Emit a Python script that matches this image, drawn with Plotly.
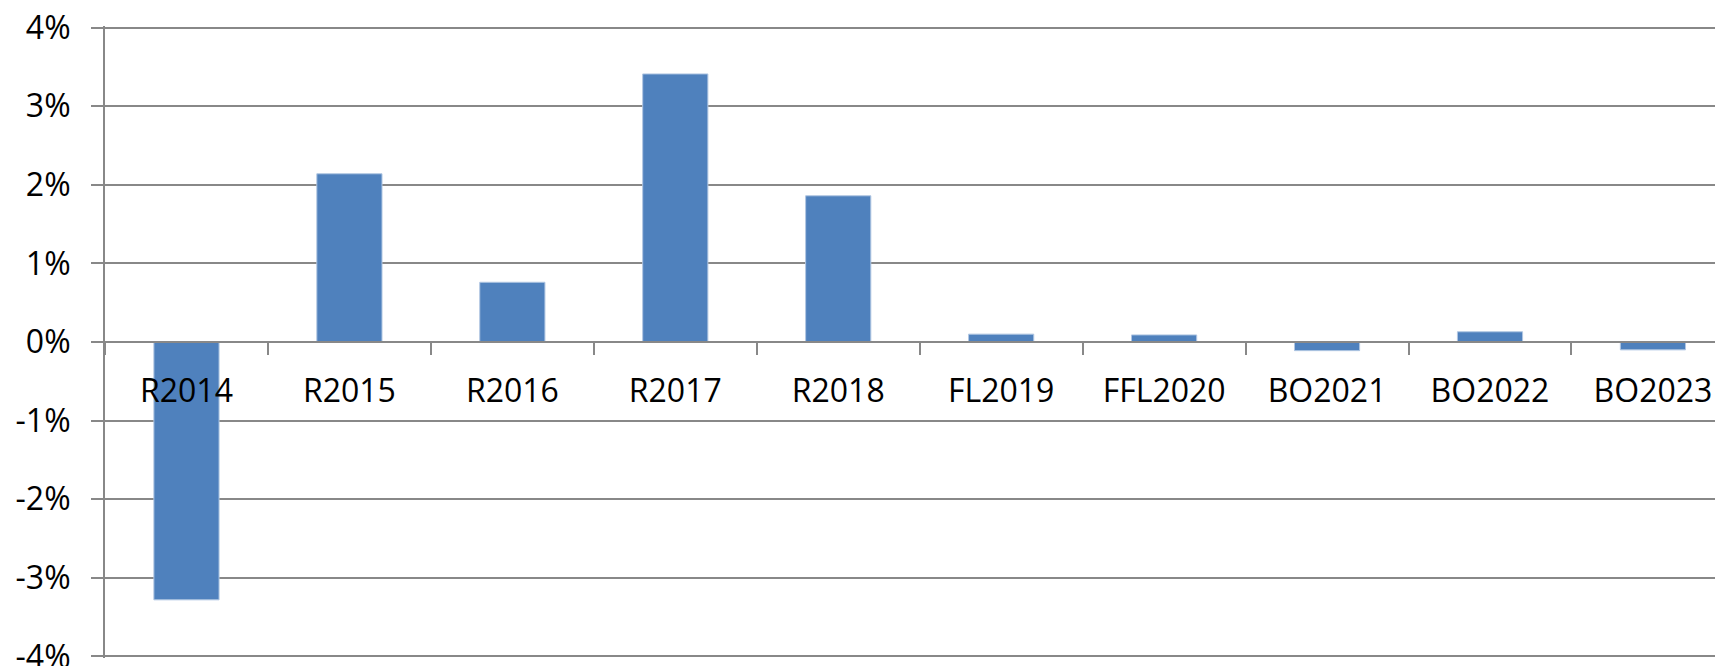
import plotly.graph_objects as go

# Year-on-year change, in percent
categories = ["R2014", "R2015", "R2016", "R2017", "R2018",
              "FL2019", "FFL2020", "BO2021", "BO2022", "BO2023"]
change_pct = [-3.28, 2.14, 0.76, 3.41, 1.86, 0.10, 0.09, -0.11, 0.13, -0.10]

y_ticks = [-4, -3, -2, -1, 0, 1, 2, 3, 4]
y_tick_labels = ["-4%", "-3%", "-2%", "-1%", "0%", "1%", "2%", "3%", "4%"]

BLUE = "#4f81bd"
GRID = "#888888"
FONT = "Open Sans"

fig = go.Figure()
fig.add_trace(go.Bar(
    x=categories, y=change_pct, width=0.4,
    marker=dict(color=BLUE, line=dict(color="#b0c6e2", width=1)),
    hoverinfo="x+y",
))

# page body has an 8px margin, so the figure is a bit smaller than the window
fig.update_layout(
    width=1715, height=658,
    margin=dict(l=97, r=0, t=18, b=8),
    paper_bgcolor="white", plot_bgcolor="white",
    showlegend=False,
    font=dict(family=FONT, size=32, color="black"),
)

# the category axis sits on the 0% line, ticks between categories
fig.update_xaxes(
    type="category", range=[-0.5, 9.43],
    anchor="free", position=0.5, automargin=False,
    showline=True, linecolor=GRID, linewidth=2,
    ticks="outside", tickson="boundaries", ticklen=12, tickcolor=GRID, tickwidth=2,
    ticklabelstandoff=21,
    showgrid=False, zeroline=False,
)
fig.update_yaxes(
    range=[-4.02, 4.02], tickvals=y_ticks, ticktext=y_tick_labels,
    automargin=False,
    showline=True, linecolor=GRID, linewidth=2,
    ticks="outside", ticklen=12, tickcolor=GRID, tickwidth=2,
    ticklabelstandoff=14, ticklabeloverflow="allow",
    showgrid=True, gridcolor=GRID, gridwidth=2,
    zeroline=False,
)

fig.write_html("out.html")
